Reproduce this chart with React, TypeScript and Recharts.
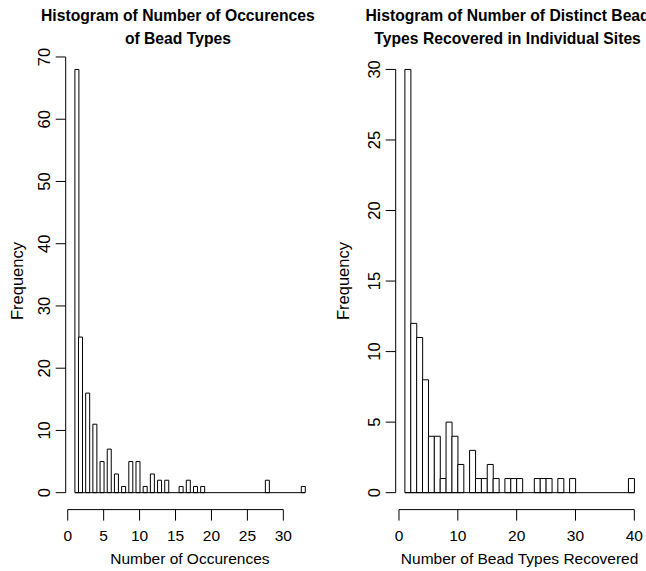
import { Bar, BarChart, ReferenceLine, XAxis, YAxis } from "recharts";

const seq = (from: number, to: number, by: number) => {
  const out: number[] = [];
  for (let v = from; v <= to + 1e-9; v += by) out.push(Math.round(v * 1000) / 1000);
  return out;
};

// left panel: how many bead types turn up n times
const occurrenceValues = seq(1, 33, 1);
const occurrenceCounts = [
  68, 25, 16, 11, 5, 7, 3, 1, 5, 5, 1, 3, 2, 2, 0, 1, 2, 1, 1, 0, 0, 0, 0, 0, 0, 0, 0, 2, 0, 0, 0, 0, 1,
];
const occurrenceBreaks = seq(1, 33, 0.5);
const occurrenceXTicks = [0, 5, 10, 15, 20, 25, 30];
const occurrenceYTicks = [0, 10, 20, 30, 40, 50, 60, 70];

// right panel: distinct types per site, bins [1,2], (2,3], ... (39,40]
const recoveredBreaks = seq(1, 40, 1);
const recoveredCounts = [
  30, 12, 11, 8, 4, 4, 1, 5, 4, 2, 0, 3, 1, 1, 2, 1, 0, 1, 1, 1, 0, 0, 1, 1, 1, 0, 1, 0, 1, 0, 0, 0, 0, 0, 0,
  0, 0, 0, 1,
];
const recoveredXTicks = [0, 10, 20, 30, 40];
const recoveredYTicks = [0, 5, 10, 15, 20, 25, 30];

// same rule as R's hist(): right-closed bins, lowest break included
function binCounts(values: number[], counts: number[], breaks: number[]) {
  return breaks.slice(1).map((hi, i) => {
    const lo = breaks[i];
    return values.reduce(
      (sum, v, j) => ((v > lo || (i === 0 && v === lo)) && v <= hi ? sum + counts[j] : sum),
      0,
    );
  });
}

const FONT = '"Liberation Sans", Arial, Helvetica, sans-serif';
const INK = "#000";
const HEIGHT = 571;
const TOP = 52.5;
const X_AXIS_H = 61.4;
const AXIS_FONT = 15.5;
const SIDE_FONT = 16.5;

function RotatedTick({ x, y, payload }: any) {
  return (
    <text
      x={x}
      y={y}
      transform={`rotate(-90, ${x}, ${y})`}
      textAnchor="middle"
      fontSize={SIDE_FONT}
      fill={INK}
    >
      {payload.value}
    </text>
  );
}

type HistProps = {
  title: string[];
  xLabel: string;
  breaks: number[];
  counts: number[];
  xTicks: number[];
  yTicks: number[];
  width: number;
  yAxisWidth: number;
  marginRight: number;
  ylabOffset: number;
};

function Histogram({
  title,
  xLabel,
  breaks,
  counts,
  xTicks,
  yTicks,
  width,
  yAxisWidth,
  marginRight,
  ylabOffset,
}: HistProps) {
  const rows = counts.map((count, i) => ({ mid: (breaks[i] + breaks[i + 1]) / 2, count }));
  const lo = breaks[0];
  const hi = breaks[breaks.length - 1];
  const padX = (hi - lo) * 0.04;
  const yMax = Math.max(...counts);
  const xDomain = [lo - padX, hi + padX];
  const yDomain = [-yMax * 0.04, yMax * 1.04];
  // the title sits a little left of the plot centre in the original
  const titleCenter = yAxisWidth + (width - yAxisWidth - marginRight) / 2 - 12;

  return (
    <div style={{ position: "relative", width, height: HEIGHT }}>
      <div
        style={{
          position: "absolute",
          top: 4,
          left: titleCenter - 200,
          width: 400,
          textAlign: "center",
          whiteSpace: "nowrap",
          fontWeight: "bold",
          fontSize: 15.7,
          lineHeight: "23px",
          color: INK,
        }}
      >
        {title.map((line) => (
          <div key={line}>{line}</div>
        ))}
      </div>
      <BarChart
        width={width}
        height={HEIGHT}
        data={rows}
        margin={{ top: TOP, right: marginRight, bottom: 0, left: 0 }}
        barCategoryGap={0}
        barGap={0}
      >
        <XAxis
          type="number"
          dataKey="mid"
          domain={xDomain}
          allowDataOverflow
          ticks={xTicks}
          interval={0}
          height={X_AXIS_H}
          axisLine={false}
          tickSize={11}
          tickMargin={9.5}
          tickLine={{ stroke: INK }}
          tick={{ fill: INK, fontSize: AXIS_FONT }}
          label={{ value: xLabel, position: "insideBottom", offset: 7, fill: INK, fontSize: AXIS_FONT }}
        />
        <YAxis
          type="number"
          domain={yDomain}
          allowDataOverflow
          ticks={yTicks}
          interval={0}
          width={yAxisWidth}
          axisLine={false}
          tickSize={10}
          tickMargin={5.7}
          tickLine={{ stroke: INK }}
          tick={<RotatedTick />}
          label={{
            value: "Frequency",
            angle: -90,
            position: "insideLeft",
            offset: ylabOffset,
            fill: INK,
            fontSize: SIDE_FONT,
            style: { textAnchor: "middle" },
          }}
        />
        <ReferenceLine
          segment={[
            { x: xTicks[0], y: yDomain[0] },
            { x: xTicks[xTicks.length - 1], y: yDomain[0] },
          ]}
          stroke={INK}
          ifOverflow="visible"
        />
        <ReferenceLine
          segment={[
            { x: xDomain[0], y: yTicks[0] },
            { x: xDomain[0], y: yTicks[yTicks.length - 1] },
          ]}
          stroke={INK}
          ifOverflow="visible"
        />
        <ReferenceLine
          segment={[
            { x: lo, y: 0 },
            { x: hi, y: 0 },
          ]}
          stroke={INK}
          ifOverflow="visible"
        />
        <Bar dataKey="count" fill="#fff" stroke={INK} strokeWidth={1} isAnimationActive={false} />
      </BarChart>
    </div>
  );
}

export default function App() {
  return (
    <div
      style={{
        position: "absolute",
        left: 0,
        top: 0,
        width: 646,
        height: HEIGHT,
        overflow: "hidden",
        background: "#fff",
        fontFamily: FONT,
      }}
    >
      <div style={{ position: "absolute", left: 0, top: 0 }}>
        <Histogram
          title={["Histogram of Number of Occurences", "of Bead Types"]}
          xLabel="Number of Occurences"
          breaks={occurrenceBreaks}
          counts={binCounts(occurrenceValues, occurrenceCounts, occurrenceBreaks)}
          xTicks={occurrenceXTicks}
          yTicks={occurrenceYTicks}
          width={323}
          yAxisWidth={65.7}
          marginRight={8.9}
          ylabOffset={17}
        />
      </div>
      <div style={{ position: "absolute", left: 323, top: 0 }}>
        <Histogram
          title={["Histogram of Number of Distinct Bead", "Types Recovered in Individual Sites"]}
          xLabel="Number of Bead Types Recovered"
          breaks={recoveredBreaks}
          counts={recoveredCounts}
          xTicks={recoveredXTicks}
          yTicks={recoveredYTicks}
          width={323}
          yAxisWidth={72.7}
          marginRight={2.5}
          ylabOffset={20}
        />
      </div>
    </div>
  );
}
